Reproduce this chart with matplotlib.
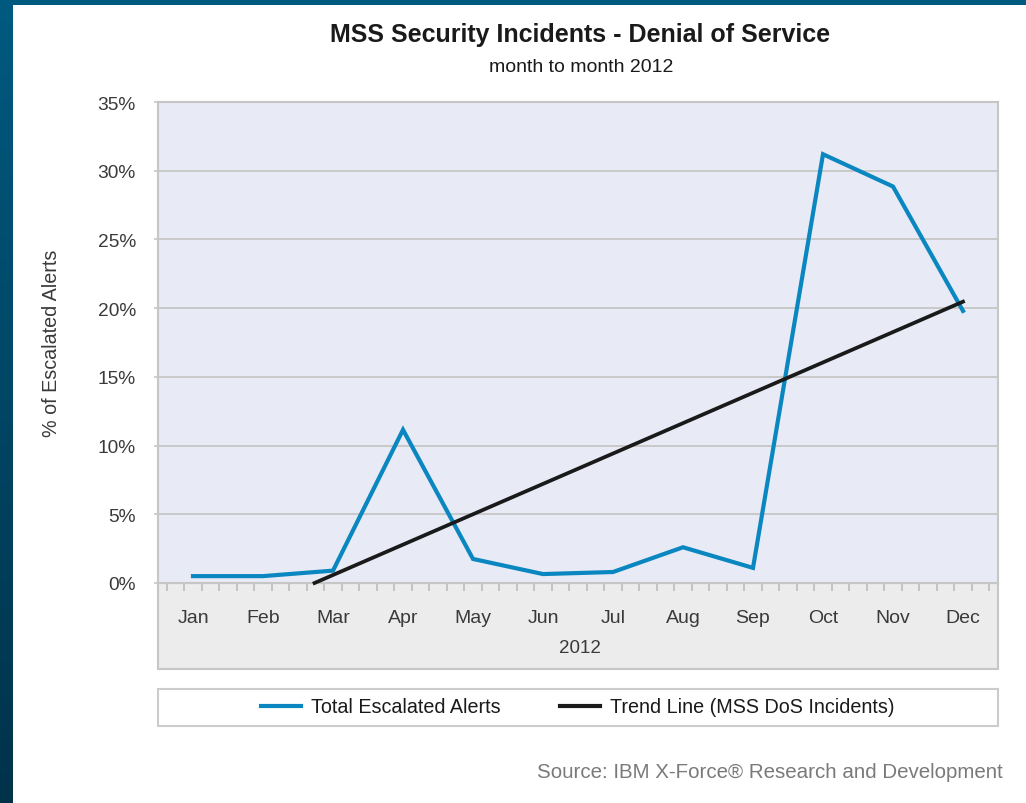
import numpy as np
import matplotlib
matplotlib.use("Agg")
import matplotlib.pyplot as plt
from matplotlib.patches import Rectangle
from matplotlib.lines import Line2D
from matplotlib.colors import to_rgb

plt.rcParams['font.family'] = ['Liberation Sans', 'DejaVu Sans']

# Data
months = ["Jan", "Feb", "Mar", "Apr", "May", "Jun",
          "Jul", "Aug", "Sep", "Oct", "Nov", "Dec"]
escalated_pct = [0.5, 0.5, 0.9, 11.15, 1.75, 0.65, 0.8, 2.6, 1.1, 31.2, 28.85, 19.8]
y_ticks = [0, 5, 10, 15, 20, 25, 30, 35]

W, H = 1026, 804
fig = plt.figure(figsize=(W / 100, H / 100), dpi=100)
fig.patch.set_facecolor("white")


def fx(px):
    return px / W


def fy(py):
    return 1 - py / H


# Dark blue frame on top and left edges
band = fig.add_axes([0, 0, fx(13), 1], zorder=-5)
c_top, c_bot = np.array(to_rgb("#005a80")), np.array(to_rgb("#00324a"))
t = np.linspace(0, 1, 256)[:, None, None]
band.imshow(c_top * (1 - t) + c_bot * t, aspect="auto", extent=[0, 1, 0, 1])
band.set_axis_off()
fig.patches.append(Rectangle((0, fy(6)), 1, 6 / H, transform=fig.transFigure,
                             facecolor="#005a80", edgecolor="none", zorder=-4))

# Grey category band below the plot
fig.patches.append(Rectangle((fx(158), fy(670)), fx(998) - fx(158), fy(584) - fy(670),
                             transform=fig.transFigure, facecolor="#ececec",
                             edgecolor="#c6c6c6", lw=1.5, zorder=-1))

# Legend frame
fig.patches.append(Rectangle((fx(158), fy(727)), fx(998) - fx(158), fy(690) - fy(727),
                             transform=fig.transFigure, facecolor="white",
                             edgecolor="#cccccc", lw=1.5, zorder=-1))

ax = fig.add_axes([fx(158), fy(584), fx(998) - fx(158), fy(103) - fy(584)])
ax.set_facecolor("#e8ebf5")

x = np.arange(len(months))
vals = np.array(escalated_pct)
ax.plot(x, vals, color="#0a87c0", lw=3.0, solid_joinstyle="miter", zorder=3)

# Linear trend of the monthly series, shown where it is non-negative
slope, icpt = np.polyfit(x, vals, 1)
x0 = -icpt / slope
tx = np.array([x0, x[-1]])
ax.plot(tx, slope * tx + icpt, color="#1a1a1a", lw=2.7, zorder=4, clip_on=False)

ax.set_xlim(-0.5, 11.5)
ax.set_ylim(0, 35)

ax.set_yticks(y_ticks)
ax.set_yticklabels([f"{v}%" for v in y_ticks])
ax.yaxis.grid(True, color="#c6c6c6", lw=1.3)
ax.set_axisbelow(True)
ax.tick_params(axis="y", length=3, width=1.2, color="#c6c6c6", pad=13,
               labelsize=13.8, labelcolor="#3a3a3a")

ax.set_xticks(x)
ax.set_xticklabels(months)
ax.tick_params(axis="x", which="major", length=0, pad=18.5, labelsize=14,
               labelcolor="#3a3a3a")
ax.set_xticks(np.arange(-0.375, 11.5, 0.25), minor=True)
ax.tick_params(axis="x", which="minor", length=5.5, width=1.2, color="#bdbdbd",
               direction="out")

for s in ax.spines.values():
    s.set_color("#c6c6c6")
    s.set_linewidth(1.5)

# Texts
fig.text(fx(580), fy(35), "MSS Security Incidents - Denial of Service",
         ha="center", va="center", fontsize=18, fontweight="bold", color="#1a1a1a")
fig.text(fx(581), fy(68), "month to month 2012", ha="center", va="center",
         fontsize=14, color="#1a1a1a")
fig.text(fx(52), fy(343), "% of Escalated Alerts", rotation=90, ha="center",
         va="center", fontsize=14.2, color="#3a3a3a")
fig.text(fx(580), fy(649), "2012", ha="center", va="center", fontsize=13.5,
         color="#3a3a3a")
fig.text(fx(1003), fy(773), "Source: IBM X-Force\u00ae Research and Development",
         ha="right", va="center", fontsize=14.8, color="#7a7a7a")

handles = [Line2D([], [], color="#0a87c0", lw=3.0),
           Line2D([], [], color="#1a1a1a", lw=3.0)]
fig.legend(handles, ["Total Escalated Alerts", "Trend Line (MSS DoS Incidents)"],
           loc="center", bbox_to_anchor=(fx(578), fy(708)), ncol=2, frameon=False,
           fontsize=14.2, handlelength=2.0, handletextpad=0.55, columnspacing=3.0,
           labelcolor="#1a1a1a")

fig.savefig("out.png", dpi=100)
